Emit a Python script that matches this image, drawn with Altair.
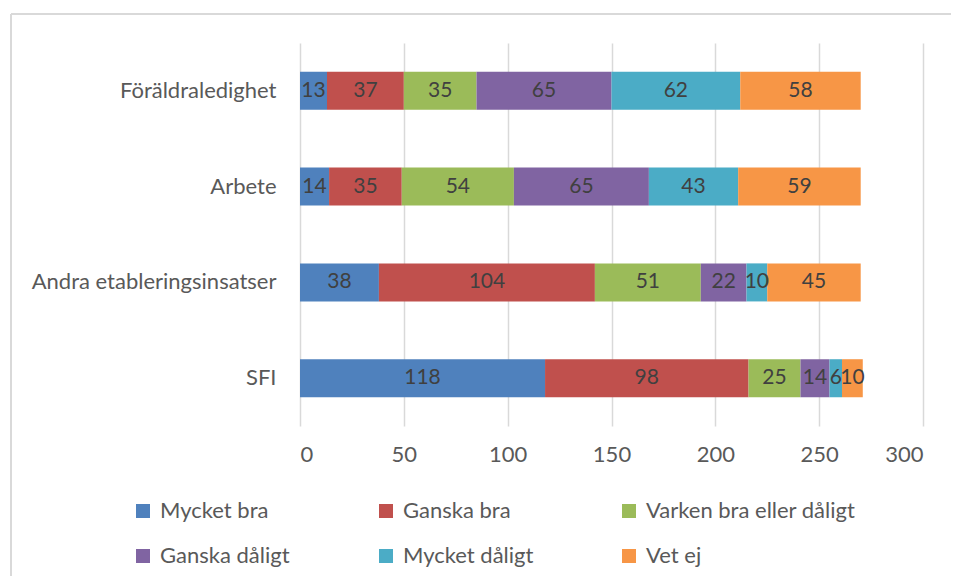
import altair as alt
import pandas as pd

categories = ["Föräldraledighet", "Arbete", "Andra etableringsinsatser", "SFI"]
series = ["Mycket bra", "Ganska bra", "Varken bra eller dåligt", "Ganska dåligt", "Mycket dåligt", "Vet ej"]
colors = ["#4f81bd", "#c0504d", "#9bbb59", "#8064a2", "#4bacc6", "#f79646"]
values = {
    "Föräldraledighet": [13, 37, 35, 65, 62, 58],
    "Arbete": [14, 35, 54, 65, 43, 59],
    "Andra etableringsinsatser": [38, 104, 51, 22, 10, 45],
    "SFI": [118, 98, 25, 14, 6, 10],
}
x_ticks = [0, 50, 100, 150, 200, 250, 300]

rows = []
for c in categories:
    for i, s in enumerate(series):
        rows.append({"cat": c, "series": s, "idx": i, "value": values[c][i]})
df = pd.DataFrame(rows)

FONT = "Lato"
FS = 22
TXT = "#595959"
INNER = "#404040"

base = alt.Chart(df).transform_stack(
    stack="value", groupby=["cat"], sort=[alt.SortField("idx", order="ascending")], as_=["x0", "x1"]
).transform_calculate(mid="(datum.x0 + datum.x1) / 2")

y_enc = alt.Y("cat:N", sort=categories, title=None,
              scale=alt.Scale(paddingInner=0.603, paddingOuter=0.3),
              axis=alt.Axis(labelFont=FONT, labelFontSize=FS, labelColor=TXT, ticks=False,
                            domain=False, labelPadding=24, labelLimit=400))

bars = base.mark_bar().encode(
    x=alt.X("x0:Q", title=None, scale=alt.Scale(domain=[0, 300], nice=False),
            axis=alt.Axis(values=x_ticks, labelFont=FONT, labelFontSize=FS, labelColor=TXT,
                          ticks=False, domain=False, grid=True, gridColor="#d9d9d9",
                          gridWidth=1.5, labelPadding=18)),
    x2="x1:Q",
    y=y_enc,
    color=alt.Color("series:N", sort=series, scale=alt.Scale(domain=series, range=colors),
                    legend=alt.Legend(title=None, orient="none", legendX=-168, legendY=457,
                                      direction="horizontal", columns=3, gridAlign="all",
                                      symbolType="square", symbolSize=196, symbolStrokeWidth=0,
                                      labelFont=FONT, labelFontSize=FS, labelColor=TXT,
                                      columnPadding=5, rowPadding=23, labelLimit=400,
                                      symbolOffset=0, labelOffset=6)),
)

labels = base.mark_text(font=FONT, fontSize=21, color=INNER, baseline="middle").encode(
    x="mid:Q",
    y=alt.Y("cat:N", sort=categories),
    text="value:Q",
)

dummy = pd.DataFrame({"a": [0]})
border_left = alt.Chart(dummy).mark_rule(color="#d9d9d9", strokeWidth=2, clip=False).encode(
    x=alt.value(-289), y=alt.value(-29), y2=alt.value(600))
border_top = alt.Chart(dummy).mark_rule(color="#d9d9d9", strokeWidth=2, clip=False).encode(
    y=alt.value(-29), x=alt.value(-289), x2=alt.value(700))

chart = alt.layer(border_left, border_top, bars, labels).properties(
    width=623, height=383,
    autosize=alt.AutoSizeParams(type="none"),
    padding={"left": 292, "top": 35, "right": 28, "bottom": 150},
).configure_view(stroke=None)

chart.save("out.html", embed_options={"renderer": "svg", "actions": False})
